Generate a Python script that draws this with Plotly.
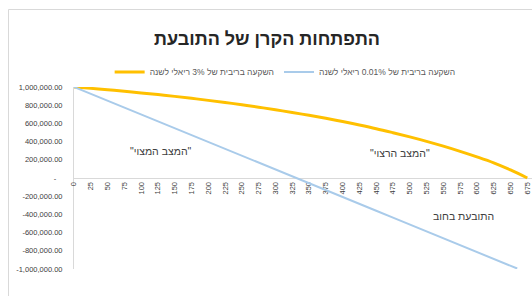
import plotly.graph_objects as go

# Data (period index vs. remaining principal)
x_orange = [0, 25, 50, 75, 100, 125, 150, 175, 200, 225, 250, 275, 300, 325,
            350, 375, 400, 425, 450, 475, 500, 525, 550, 575, 600, 625, 650, 675]
y_orange = [1000000, 985000, 970000, 953000, 935000, 917000, 897000, 876000,
            853000, 830000, 805000, 778000, 750000, 720000, 689000, 656000,
            620000, 582000, 542000, 498000, 452000, 403000, 350000, 293000,
            232000, 166000, 88000, 0]

x_blue = [0, 25, 50, 75, 100, 125, 150, 175, 200, 225, 250, 275, 300, 325,
          350, 375, 400, 425, 450, 475, 500, 525, 550, 575, 600, 625, 650, 660]
y_blue = [1000000, 924900, 849700, 774500, 699200, 623900, 548500, 473100,
          397600, 322100, 246500, 170900, 95200, 19500, -56200, -132000,
          -207800, -283700, -359600, -435600, -511600, -587700, -663800,
          -740000, -816200, -892500, -968800, -995000]

name_orange = "השקעה בריבית של 3% ריאלי לשנה"
name_blue = "השקעה בריבית של 0.01% ריאלי לשנה"
title_text = "התפתחות הקרן של התובעת"

x_ticks = list(range(0, 676, 25))
y_ticks = [1000000, 800000, 600000, 400000, 200000, 0,
           -200000, -400000, -600000, -800000, -1000000]
y_ticktext = ["1,000,000.00", "800,000.00", "600,000.00", "400,000.00",
              "200,000.00", "-   ", "-200,000.00", "-400,000.00",
              "-600,000.00", "-800,000.00", "-1,000,000.00"]

ann_text = ['"המצב המצוי"', '"המצב הרצוי"', "התובעת בחוב"]
ann_x = [130, 485, 580]
ann_y = [297000, 278000, -414000]

FONT = "Liberation Sans, Arial, DejaVu Sans, sans-serif"

fig = go.Figure()
fig.add_trace(go.Scatter(x=x_orange, y=y_orange, mode="lines", name=name_orange,
                         line=dict(color="#FFC000", width=3, shape="spline")))
fig.add_trace(go.Scatter(x=x_blue, y=y_blue, mode="lines", name=name_blue,
                         line=dict(color="#A9CBEA", width=2)))

for t, ax_, ay_ in zip(ann_text, ann_x, ann_y):
    fig.add_annotation(x=ax_, y=ay_, xref="x", yref="y", text=t, showarrow=False,
                       font=dict(size=10.5, color="#404040", family=FONT))

# chart-area frame (top and left edges visible in the crop)
fig.add_shape(type="path", xref="paper", yref="paper",
              path="M -0.1430 -0.3 L -0.1430 1.4258 L 1.1 1.4258",
              line=dict(color="#D9D9D9", width=1))

fig.update_layout(
    width=532, height=296,
    margin=dict(l=74, r=0, t=87, b=27, autoexpand=False),
    paper_bgcolor="white", plot_bgcolor="white",
    font=dict(family=FONT, color="#595959"),
    title=dict(text="<b>" + title_text + "</b>", x=0.502, xanchor="center",
               y=0.87, yanchor="middle",
               font=dict(size=18, color="#262626", family=FONT)),
    showlegend=True,
    legend=dict(orientation="h", xref="container", yref="container",
                x=0.536, xanchor="center", y=0.757, yanchor="middle",
                font=dict(size=8.5, color="#595959", family=FONT),
                bgcolor="rgba(0,0,0,0)"),
    xaxis=dict(range=[0, 682], tickmode="array", tickvals=x_ticks,
               ticktext=[str(v) for v in x_ticks], tickangle=-90,
               anchor="free", position=0.5, showline=True, automargin=False,
               ticklabeloverflow="allow",
               linecolor="#D9D9D9", linewidth=1, showgrid=False,
               zeroline=False, ticks="", layer="below traces",
               tickfont=dict(size=7.5, color="#404040", family=FONT)),
    yaxis=dict(range=[-1000000, 1000000], tickmode="array", tickvals=y_ticks,
               ticktext=y_ticktext, showline=True, linecolor="#D9D9D9",
               linewidth=1, showgrid=False, zeroline=False, ticks="",
               automargin=False, ticklabelstandoff=9, layer="below traces",
               tickfont=dict(size=7.5, color="#404040", family=FONT)),
)

fig.write_html("out.html", config={"displayModeBar": False},
               post_script="document.body.style.margin='0';document.body.style.overflow='hidden';")
